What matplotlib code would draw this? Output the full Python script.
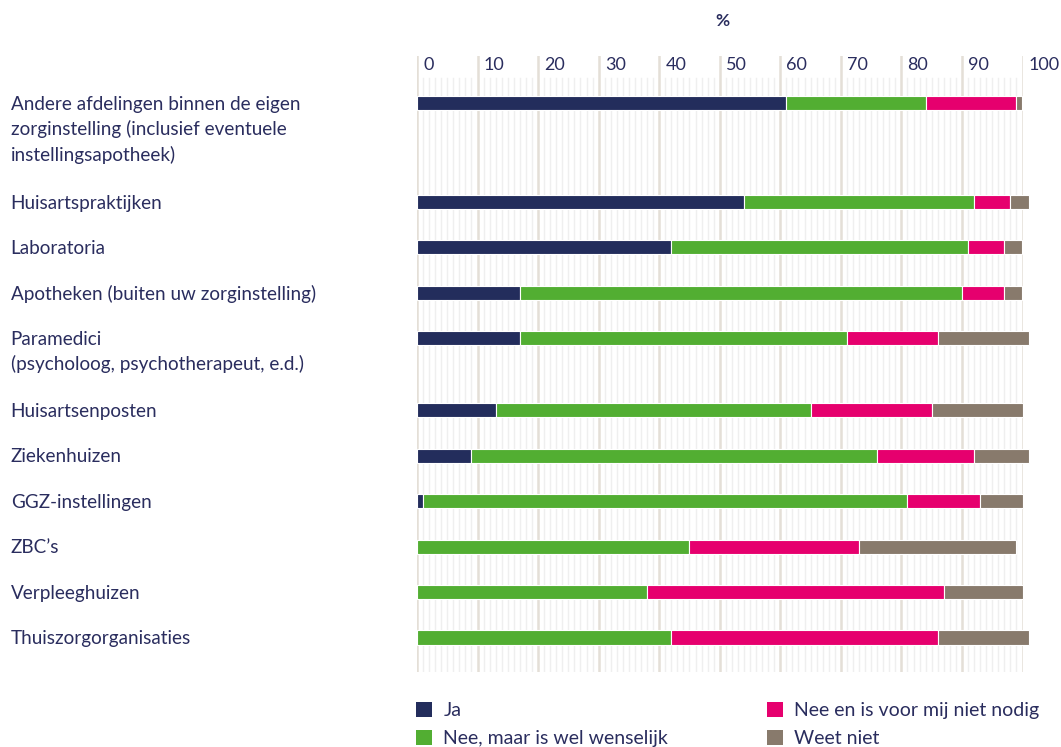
import numpy as np
import matplotlib
matplotlib.use('Agg')
import matplotlib.pyplot as plt
from matplotlib.patches import Patch

plt.rcParams['font.family'] = ['Lato', 'DejaVu Sans']

# categorieen en percentages
categories = ['Andere afdelingen binnen de eigen\nzorginstelling (inclusief eventuele\ninstellingsapotheek)',
              'Huisartspraktijken',
              'Laboratoria',
              'Apotheken (buiten uw zorginstelling)',
              'Paramedici\n(psycholoog, psychotherapeut, e.d.)',
              'Huisartsenposten',
              'Ziekenhuizen',
              'GGZ-instellingen',
              'ZBC\u2019s',
              'Verpleeghuizen',
              'Thuiszorgorganisaties']
ja = [61, 54, 42, 17, 17, 13, 9, 1, 0, 0, 0]
nee_wenselijk = [23, 38, 49, 73, 54, 52, 67, 80, 45, 38, 42]
nee_niet_nodig = [15, 6, 6, 7, 15, 20, 16, 12, 28, 49, 44]
weet_niet = [1, 3, 3, 3, 15, 15, 9, 7, 26, 13, 15]
series_names = ['Ja', 'Nee, maar is wel wenselijk', 'Nee en is voor mij niet nodig', 'Weet niet']
colors = ['#232d5c', '#52ae32', '#e6006e', '#887a6c']
xticks = [0, 10, 20, 30, 40, 50, 60, 70, 80, 90, 100]

text_color = '#2a2d5e'

fig = plt.figure(figsize=(10.61, 7.47), dpi=100)
W, H = 1061, 747
ax = fig.add_axes([417 / W, 1 - 672 / H, (1022.5 - 417) / W, (672 - 56) / H])

# rijposities: extra ruimte voor labels met meerdere regels
extra = 0.59
ypos = []
y = 0.0
for i, c in enumerate(categories):
    ypos.append(y)
    y += 1 + extra * (c.count('\n'))
ypos = np.array(ypos)

ybot, ytop = 12.53, -1.03
ax.set_xlim(0, 100)
ax.set_ylim(ybot, ytop)

# rasterlijnen
for v in range(0, 101):
    if v % 10 == 0:
        ax.plot([v, v], [ybot, ytop], color='#e4dfd7', lw=1.8, zorder=0)
    else:
        ax.plot([v, v], [ybot, -0.55], color='#efefef', lw=1.0, zorder=0)

left = np.zeros(len(categories))
for vals, name, col in zip([ja, nee_wenselijk, nee_niet_nodig, weet_niet], series_names, colors):
    vals = np.array(vals, dtype=float)
    ax.barh(ypos, vals, left=left, height=0.31, color=col, edgecolor='white', linewidth=0.8,
            zorder=2, clip_on=False)
    left += vals

for v in xticks:
    ax.text(v + 1.0, -0.84, str(v), ha='left', va='center', fontsize=13, color=text_color)

for yp, c in zip(ypos, categories):
    ax.text(-67.1, yp - 0.16, c, ha='left', va='top', fontsize=13.6, color=text_color,
            linespacing=1.5)

ax.text(50.5, -1.8, '%', ha='center', va='center', fontsize=12.5, fontweight='bold', color=text_color)

for s in ax.spines.values():
    s.set_visible(False)
ax.set_xticks([])
ax.set_yticks([])

handles = [Patch(facecolor=c, edgecolor='none', label=n) for c, n in zip(colors, series_names)]
leg = fig.legend(handles=handles, ncol=2, loc='upper left', bbox_to_anchor=(416 / W, 1 - 702 / H),
                 frameon=False, fontsize=14, handlelength=0.8, handleheight=0.8, handletextpad=0.6,
                 columnspacing=5.1, labelspacing=0.55, borderaxespad=0, borderpad=0)
for t in leg.get_texts():
    t.set_color(text_color)

fig.savefig('out.png', dpi=100)
